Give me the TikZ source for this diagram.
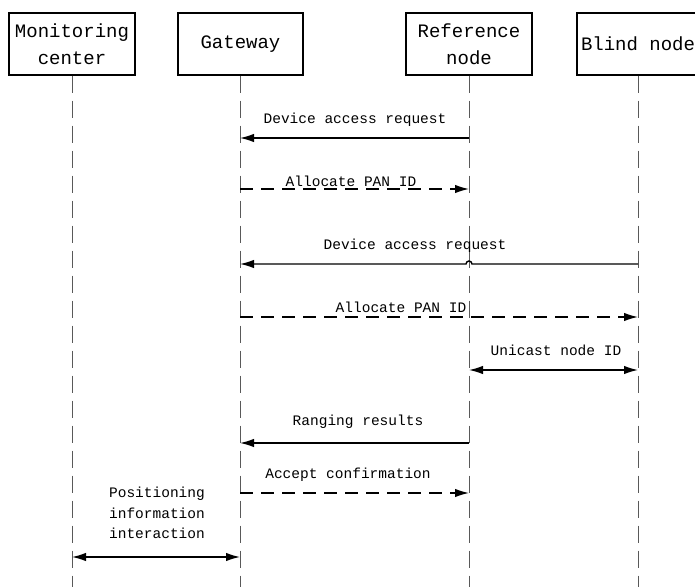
\documentclass[tikz,border=0pt]{standalone}
\usepackage{fontspec}
\setmonofont{Liberation Mono}
\usetikzlibrary{arrows.meta}

\tikzset{
	party/.style={draw, line width=1.2pt, minimum height=62pt, align=center,
		font=\ttfamily\fontsize{19}{27.5}\selectfont},
	lifeline/.style={gray!70!black, line width=1pt, dash pattern=on 17pt off 8pt},
	msg/.style={line width=1.4pt, ->},
	reply/.style={msg, dash pattern=on 13pt off 8pt},
	twoway/.style={line width=1.4pt, <->},
	lbl/.style={font=\ttfamily\fontsize{14.5}{20.5}\selectfont, inner sep=0pt, anchor=base},
}

\begin{document}
\begin{tikzpicture}[x=1pt, y=-1pt, >={Latex[length=14pt,width=8.5pt]}]
	\useasboundingbox (0,0) rectangle (695,586);
	\clip (0,0) rectangle (695,586);

	% parties
	\node[party, minimum width=126pt] (mon) at (72,44) {Monitoring\\center};
	\node[party, minimum width=125pt] (gw) at (240.5,44) {Gateway};
	\node[party, minimum width=126pt] (ref) at (469,44) {Reference\\node};
	\node[party, minimum width=122pt] (bl) at (638,44) {Blind node};

	% lifelines
	\coordinate (mon-end) at (72,590);
	\coordinate (gw-end) at (240,590);
	\coordinate (ref-end) at (469,590);
	\coordinate (bl-end) at (638,590);
	\draw[lifeline] (mon.south) -- (mon-end);
	\draw[lifeline] (gw.south -| gw-end) -- (gw-end);
	\draw[lifeline] (ref.south) -- (ref-end);
	\draw[lifeline] (bl.south) -- (bl-end);

	% device access request (reference node)
	\coordinate (r1) at (ref-end |- 0,138);
	\coordinate (g1) at (gw-end |- 0,138);
	\draw[msg] (r1) -- (g1);
	\node[lbl] (l1) at (355,123) {Device access request};

	% allocate PAN ID
	\coordinate (g2) at (gw-end |- 0,189);
	\coordinate (r2) at (ref-end |- 0,189);
	\draw[reply] (g2) -- (r2);
	\node[lbl] (l2) at (351,186) {Allocate PAN ID};

	% device access request (blind node), jumps the reference lifeline
	\coordinate (b3) at (bl-end |- 0,264);
	\coordinate (r3) at (ref-end |- 0,264);
	\coordinate (g3) at (gw-end |- 0,264);
	\draw[msg] (b3) -- ([xshift=3pt]r3) arc[start angle=0, end angle=180, radius=3pt] -- (g3);
	\node[lbl] (l3) at (415,249) {Device access request};

	% allocate PAN ID
	\coordinate (g4) at (gw-end |- 0,317);
	\coordinate (b4) at (bl-end |- 0,317);
	\draw[reply] (g4) -- (b4);
	\node[lbl] (l4) at (401,312) {Allocate PAN ID};

	% unicast node ID
	\coordinate (r5) at (ref-end |- 0,370);
	\coordinate (b5) at (bl-end |- 0,370);
	\draw[twoway] (r5) -- (b5);
	\node[lbl] (l5) at (556,355) {Unicast node ID};

	% ranging results
	\coordinate (r6) at (ref-end |- 0,443);
	\coordinate (g6) at (gw-end |- 0,443);
	\draw[msg] (r6) -- (g6);
	\node[lbl] (l6) at (358,425) {Ranging results};

	% accept confirmation
	\coordinate (g7) at (gw-end |- 0,493);
	\coordinate (r7) at (ref-end |- 0,493);
	\draw[reply] (g7) -- (r7);
	\node[lbl] (l7) at (348,478) {Accept confirmation};

	% positioning information interaction
	\coordinate (m8) at (mon-end |- 0,557);
	\coordinate (g8) at (gw-end |- 0,557);
	\draw[twoway] (m8) -- (g8);
	\node[lbl, align=center, anchor=north] (l8) at (157,487) {Positioning\\information\\interaction};
\end{tikzpicture}
\end{document}
